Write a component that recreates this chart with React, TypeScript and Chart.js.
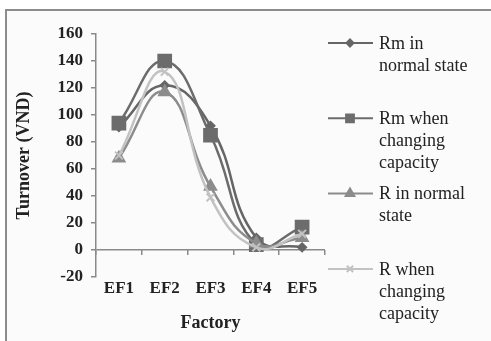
import React, { useEffect, useRef } from "react";
import { Chart, registerables } from "chart.js";
import { drawPoint } from "chart.js/helpers";

Chart.register(...registerables);

const categories = ["EF1", "EF2", "EF3", "EF4", "EF5"];
const rmNormal = [91, 122, 92, 9, 2];
const rmChanging = [94, 140, 85, 4, 17];
const rNormal = [68, 117, 47, 5, 9];
const rChanging = [70, 132, 39, 2, 12];
const seriesNames = [
  "Rm in normal state",
  "Rm when changing capacity",
  "R in normal state",
  "R when changing capacity",
];
const legendLines = [
  ["Rm in", "normal state"],
  ["Rm when", "changing", "capacity"],
  ["R in normal", "state"],
  ["R when", "changing", "capacity"],
];
const yTitle = "Turnover (VND)";
const xTitle = "Factory";

const SERIF = "'Liberation Serif', serif";
const AXIS = "#8a8a8a";
const legendRadius = [3.5, 5.5, 5, 4.5];

const framePlugin = {
  id: "frame",
  beforeDraw(chart: any) {
    const ctx = chart.ctx;
    ctx.save();
    ctx.fillStyle = "#ffffff";
    ctx.fillRect(0, 0, chart.width, chart.height);
    ctx.fillStyle = "#fbfbfb";
    ctx.fillRect(6, 10, chart.width, chart.height);
    ctx.strokeStyle = "#8c8c8c";
    ctx.lineWidth = 2;
    ctx.strokeRect(6, 10, chart.width + 10, chart.height + 10);
    ctx.restore();
  },
};

const legendPlugin = {
  id: "sideLegend",
  afterDraw(chart: any) {
    const ctx = chart.ctx;
    const x0 = chart.chartArea.right + 3;
    ctx.save();
    chart.data.datasets.forEach((ds: any, i: number) => {
      const y = 43 + i * 75.3;
      ctx.strokeStyle = ds.borderColor;
      ctx.lineWidth = 2;
      ctx.beginPath();
      ctx.moveTo(x0, y);
      ctx.lineTo(x0 + 45, y);
      ctx.stroke();
      ctx.fillStyle = ds.pointBackgroundColor;
      ctx.strokeStyle = ds.pointBorderColor;
      drawPoint(
        ctx,
        { pointStyle: ds.pointStyle, radius: legendRadius[i], borderWidth: ds.pointBorderWidth, rotation: 0 } as any,
        x0 + 22,
        y
      );
      ctx.fillStyle = "#222";
      ctx.font = "normal 18px " + SERIF;
      ctx.textBaseline = "middle";
      ctx.textAlign = "left";
      legendLines[i].forEach((t, j) => ctx.fillText(t, x0 + 51, y + 1 + j * 22));
    });
    ctx.restore();
  },
};

export default function App() {
  const ref = useRef<HTMLCanvasElement>(null);
  useEffect(() => {
    if (!ref.current) return;
    const mk = (
      label: string,
      data: number[],
      color: string,
      style: string,
      radius: number,
      order: number,
      bw = 2
    ) => ({
      label,
      data,
      borderColor: color,
      backgroundColor: color,
      pointBackgroundColor: color,
      pointBorderColor: color,
      pointStyle: style,
      pointRadius: radius,
      pointBorderWidth: bw,
      borderWidth: 2.5,
      tension: 0.45,
      order,
    });
    const chart = new Chart(ref.current, {
      type: "line",
      data: {
        labels: categories,
        datasets: [
          mk(seriesNames[0], rmNormal, "#666666", "rectRot", 4, 4),
          mk(seriesNames[1], rmChanging, "#6c6c6c", "rect", 9, 3),
          mk(seriesNames[2], rNormal, "#8c8c8c", "triangle", 6.5, 2),
          mk(seriesNames[3], rChanging, "#c2c2c2", "crossRot", 5.5, 1, 2),
        ] as any,
      },
      options: {
        animation: false,
        responsive: false,
        layout: { padding: { left: 0, right: 166, top: 34, bottom: 0 } },
        plugins: { legend: { display: false }, tooltip: { enabled: false } },
        scales: {
          x: {
            type: "category",
            offset: true,
            grid: { display: false, drawTicks: false },
            border: { display: false },
            ticks: { color: "#222", font: { family: SERIF, size: 17, weight: "bold" }, padding: 1, maxRotation: 0 },
            title: {
              display: true,
              text: xTitle,
              color: "#222",
              font: { family: SERIF, size: 18, weight: "bold" },
              padding: { top: 0, bottom: 7 },
            },
            afterFit: (s: any) => {
              s.height = 64;
            },
          },
          x2: {
            type: "category",
            position: { y: 0 } as any,
            offset: true,
            grid: { offset: true, drawOnChartArea: false, tickLength: 5, color: AXIS, lineWidth: 1.5 },
            border: { display: false },
            ticks: { display: false },
          },
          y: {
            min: -20,
            max: 160,
            ticks: { stepSize: 20, color: "#222", font: { family: SERIF, size: 17, weight: "bold" }, padding: 8 },
            grid: {
              color: (c: any) => (c.tick && c.tick.value === 0 ? AXIS : "rgba(0,0,0,0)"),
              tickColor: AXIS,
              tickLength: 5,
              lineWidth: 1.5,
            },
            border: { display: true, color: AXIS, width: 1.5 },
            title: {
              display: true,
              text: yTitle,
              color: "#222",
              font: { family: SERIF, size: 18, weight: "bold" },
              padding: { top: 14, bottom: 0 },
            },
            afterFit: (s: any) => {
              s.width = 96;
            },
          },
        },
      } as any,
      plugins: [framePlugin, legendPlugin],
    });
    return () => chart.destroy();
  }, []);
  return (
    <div style={{ position: "absolute", left: 0, top: 0, width: 491, height: 341 }}>
      <canvas ref={ref} width={491} height={341} />
    </div>
  );
}
